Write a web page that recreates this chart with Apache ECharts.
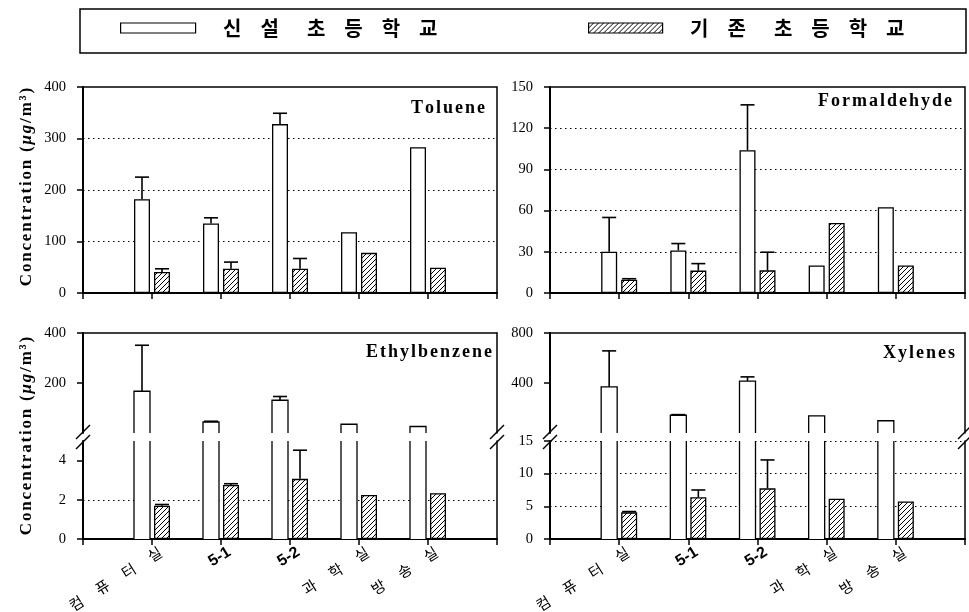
<!DOCTYPE html>
<html><head><meta charset="utf-8">
<script src="https://cdn.jsdelivr.net/npm/echarts@6/dist/echarts.min.js"></script>
<style>html,body{margin:0;padding:0;background:#fff}#c{width:969px;height:612px}</style>
</head><body><div id="c"></div>
<script>
// ---------------- data ----------------
const categories = ['컴퓨터실', '5-1', '5-2', '과학실', '방송실'];
const seriesNames = ['신설 초등학교', '기존 초등학교'];
const panelTitles = ['Toluene', 'Formaldehyde', 'Ethylbenzene', 'Xylenes'];

const tolueneNew = [182, 135, 328, 118, 283];
const tolueneNewSD = [43, 11, 21, null, null];
const tolueneOld = [41, 47, 47, 78, 49];
const tolueneOldSD = [6, 13, 20, null, null];

const formaldehydeNew = [30, 31, 104, 20, 62.5];
const formaldehydeNewSD = [25, 5, 33, null, null];
const formaldehydeOld = [9.6, 16.3, 16.5, 51, 20];
const formaldehydeOldSD = [0.8, 5.1, 13.2, null, null];

const ethylbenzeneNew = [167, 44, 131, 35, 26];
const ethylbenzeneNewSD = [184, 3, 15, null, null];
const ethylbenzeneOld = [1.70, 2.76, 3.07, 2.25, 2.34];
const ethylbenzeneOldSD = [0.06, 0.06, 1.46, null, null];

const xylenesNew = [369, 142, 415, 137, 98];
const xylenesNewSD = [288, 5, 34, null, null];
const xylenesOld = [4.08, 6.4, 7.75, 6.15, 5.74];
const xylenesOldSD = [0.12, 1.1, 4.35, null, null];

// tick labels
const tolueneTicks = [0, 100, 200, 300, 400];
const formaldehydeTicks = [0, 30, 60, 90, 120, 150];
const ethylUpperTicks = [200, 400];
const ethylLowerTicks = [0, 2, 4];
const xylUpperTicks = [400, 800];
const xylLowerTicks = [0, 5, 10, 15];
const yTitle = ['Concentration (', 'μg', '/m³)'];

// ---------------- layout / style ----------------
const L = {lx: 83, lw: 414, rx: 550, rw: 415, topY: 87, topH: 206, upY: 333, upH: 100, loY: 441, loH: 98};
const BAR_W = 16, BAR_GAP = '25%', OFF = 10, CAP = 14;
const xCats = [''].concat(categories, ['']);
const pad = arr => ['-'].concat(arr, ['-']);

// hatch pattern
const pc = document.createElement('canvas');
pc.width = 5; pc.height = 5;
const ctx = pc.getContext('2d');
ctx.fillStyle = '#fff'; ctx.fillRect(0, 0, 5, 5);
ctx.strokeStyle = '#000'; ctx.lineWidth = 1;
ctx.beginPath();
ctx.moveTo(0, 5); ctx.lineTo(5, 0);
ctx.moveTo(-1, 1); ctx.lineTo(1, -1);
ctx.moveTo(4, 6); ctx.lineTo(6, 4);
ctx.stroke();
const hatch = {image: pc, repeat: 'repeat'};

const whiteStyle = {color: '#fff', borderColor: '#000', borderWidth: 1.3};
const whiteFill = {color: '#fff', borderWidth: 0};
const hatchStyle = {color: hatch, borderColor: '#000', borderWidth: 1.3};

function spaced(s, key) {
  return s.split('').map(c => c === ' ' ? '{m| }' : '{' + key + '|' + c + '}').join('');
}

// ---------------- grids ----------------
const grids = [
  {left: L.lx, top: L.topY, width: L.lw, height: L.topH, show: true},
  {left: L.rx, top: L.topY, width: L.rw, height: L.topH, show: true},
  {left: L.lx, top: L.upY, width: L.lw, height: L.upH},
  {left: L.lx, top: L.loY, width: L.lw, height: L.loH},
  {left: L.rx, top: L.upY, width: L.rw, height: L.upH},
  {left: L.rx, top: L.loY, width: L.rw, height: L.loH}
].map(g => Object.assign({borderColor: '#000', borderWidth: 1.5, containLabel: false, outerBoundsMode: 'none'}, g));

const xRich = {
  k0: {fontFamily: 'Noto Sans CJK KR', fontSize: 15, color: '#000'},
  k: {fontFamily: 'Noto Sans CJK KR', fontSize: 15, color: '#000', padding: [0, 0, 0, 17]},
  n: {fontFamily: 'Liberation Sans', fontSize: 16, fontWeight: 'bold', color: '#000'}
};
function xFmt(v) {
  if (!v) return '';
  if (/^[0-9-]+$/.test(v)) return '{n|' + v + '}';
  return v.split('').map((c, i) => '{' + (i ? 'k' : 'k0') + '|' + c + '}').join('');
}
function xAx(gi, pos, labels) {
  return {
    type: 'category', gridIndex: gi, data: xCats, boundaryGap: false, position: pos,
    axisLine: {show: true, onZero: false, lineStyle: {color: '#000', width: pos === 'top' ? 1.5 : 2}},
    axisTick: {show: pos === 'bottom', interval: 0, length: 6, lineStyle: {color: '#000', width: 1.5}},
    axisLabel: {show: labels, interval: 0, rotate: 32, margin: 17, padding: [0, -10, 0, 0], formatter: xFmt, rich: xRich},
    splitLine: {show: false}
  };
}
function yAx(gi, ticks, min, max, interval, maxLine) {
  return {
    type: 'value', gridIndex: gi, position: 'left', min: min, max: max, interval: interval,
    axisLine: {show: true, onZero: false, lineStyle: {color: '#000', width: 2}},
    axisTick: {show: true, length: 6, customValues: ticks, lineStyle: {color: '#000', width: 1.5}},
    axisLabel: {show: true, customValues: ticks, margin: 17, color: '#000', fontFamily: 'Liberation Serif', fontSize: 14.5},
    splitLine: {show: true, showMinLine: false, showMaxLine: maxLine, lineStyle: {color: '#000', width: 1, type: [1.5, 3.5]}}
  };
}
function yRight(gi) {
  return {type: 'value', gridIndex: gi, position: 'right',
    axisLine: {show: true, onZero: false, lineStyle: {color: '#000', width: 1.5}},
    axisTick: {show: false}, axisLabel: {show: false}, splitLine: {show: false}};
}

const xAxis = [xAx(0, 'bottom', false), xAx(1, 'bottom', false), xAx(2, 'top', false),
               xAx(3, 'bottom', true), xAx(4, 'top', false), xAx(5, 'bottom', true)];
const yAxis = [
  yAx(0, tolueneTicks, 0, 400, 100, false),
  yAx(1, formaldehydeTicks, 0, 150, 30, false),
  yAx(2, ethylUpperTicks, 0, 400, 200, false),
  yAx(3, ethylLowerTicks, 0, 5, 2, false),
  yAx(4, xylUpperTicks, 0, 800, 400, false),
  yAx(5, xylLowerTicks, 0, 15, 5, true),
  yRight(2), yRight(3), yRight(4), yRight(5)
];

// ---------------- series helpers ----------------
function bar(name, ai, data, style) {
  return {type: 'bar', name: name, xAxisIndex: ai, yAxisIndex: ai, data: data,
    barWidth: BAR_W, barGap: BAR_GAP, itemStyle: style, silent: true, z: 2};
}
function errSeries(ai, vals, sds, off) {
  const data = [];
  vals.forEach((v, i) => { if (sds[i] != null) data.push([i + 1, v, v + sds[i]]); });
  return {type: 'custom', xAxisIndex: ai, yAxisIndex: ai, data: data, z: 4, silent: true,
    renderItem: (params, api) => {
      const x = api.value(0), v = api.value(1), t = api.value(2);
      const p0 = api.coord([x, v]), p1 = api.coord([x, t]);
      const cx = p0[0] + off;
      const st = {stroke: '#000', lineWidth: 1.6};
      return {type: 'group', children: [
        {type: 'line', shape: {x1: cx, y1: p0[1], x2: cx, y2: p1[1]}, style: st},
        {type: 'line', shape: {x1: cx - CAP / 2, y1: p1[1], x2: cx + CAP / 2, y2: p1[1]}, style: st}
      ]};
    }};
}
function outlineSeries(ai, vals, axisMax, off) {
  return {type: 'custom', xAxisIndex: ai, yAxisIndex: ai, data: vals.map((v, i) => [i + 1, v]), z: 3, silent: true,
    renderItem: (params, api) => {
      const x = api.value(0), v = api.value(1);
      const clipped = v > axisMax;
      const pb = api.coord([x, 0]), pt = api.coord([x, clipped ? axisMax : v]);
      const cx = pb[0] + off, l = cx - BAR_W / 2, r = cx + BAR_W / 2;
      const st = {stroke: '#000', lineWidth: 1.3, fill: null};
      if (clipped) {
        return {type: 'group', children: [
          {type: 'line', shape: {x1: l, y1: pb[1], x2: l, y2: pt[1]}, style: st},
          {type: 'line', shape: {x1: r, y1: pb[1], x2: r, y2: pt[1]}, style: st}
        ]};
      }
      return {type: 'polyline', shape: {points: [[l, pb[1]], [l, pt[1]], [r, pt[1]], [r, pb[1]]]}, style: st};
    }};
}

const series = [
  // Toluene
  bar(seriesNames[0], 0, pad(tolueneNew), whiteStyle),
  bar(seriesNames[1], 0, pad(tolueneOld), hatchStyle),
  errSeries(0, tolueneNew, tolueneNewSD, -OFF),
  errSeries(0, tolueneOld, tolueneOldSD, OFF),
  // Formaldehyde
  bar(seriesNames[0], 1, pad(formaldehydeNew), whiteStyle),
  bar(seriesNames[1], 1, pad(formaldehydeOld), hatchStyle),
  errSeries(1, formaldehydeNew, formaldehydeNewSD, -OFF),
  errSeries(1, formaldehydeOld, formaldehydeOldSD, OFF),
  // Ethylbenzene upper
  bar(seriesNames[0], 2, pad(ethylbenzeneNew), whiteFill),
  bar(seriesNames[1], 2, pad(categories.map(() => '-')), hatchStyle),
  outlineSeries(2, ethylbenzeneNew, 400, -OFF),
  errSeries(2, ethylbenzeneNew, ethylbenzeneNewSD, -OFF),
  // Ethylbenzene lower
  bar(seriesNames[0], 3, pad(ethylbenzeneNew), whiteFill),
  bar(seriesNames[1], 3, pad(ethylbenzeneOld), hatchStyle),
  outlineSeries(3, ethylbenzeneNew, 5, -OFF),
  errSeries(3, ethylbenzeneOld, ethylbenzeneOldSD, OFF),
  // Xylenes upper
  bar(seriesNames[0], 4, pad(xylenesNew), whiteFill),
  bar(seriesNames[1], 4, pad(categories.map(() => '-')), hatchStyle),
  outlineSeries(4, xylenesNew, 800, -OFF),
  errSeries(4, xylenesNew, xylenesNewSD, -OFF),
  // Xylenes lower
  bar(seriesNames[0], 5, pad(xylenesNew), whiteFill),
  bar(seriesNames[1], 5, pad(xylenesOld), hatchStyle),
  outlineSeries(5, xylenesNew, 15, -OFF),
  errSeries(5, xylenesOld, xylenesOldSD, OFF)
];

// ---------------- titles ----------------
const titleRich = {t: {fontFamily: 'Liberation Serif', fontWeight: 'bold', fontSize: 18, color: '#000', padding: [0, 1, 0, 1]}};
const titlePos = [{right: 485, top: 99}, {right: 18, top: 92}, {right: 478, top: 343}, {right: 15, top: 344}];
const title = panelTitles.map((t, i) => Object.assign({
  text: spaced(t, 't'), padding: 0, textStyle: {rich: titleRich}
}, titlePos[i]));

// ---------------- legend ----------------
const legRich = {
  s: {width: 13},
  m: {width: 9},
  c: {fontFamily: 'Noto Sans CJK KR', fontWeight: 'bold', fontSize: 20, color: '#000', padding: [0, 9.5, 0, 9.5]}
};
function legend(name, left, w) {
  return {data: [name], left: left, top: 18, padding: 0, itemWidth: w, itemHeight: 10, icon: 'rect',
    selectedMode: false, itemStyle: {borderColor: '#000', borderWidth: 1.2},
    formatter: n => '{s| }' + spaced(n, 'c'), textStyle: {rich: legRich}};
}

// ---------------- graphics ----------------
const yTitleRich = {
  b: {fontFamily: 'Liberation Serif', fontWeight: 'bold', fontSize: 17, fill: '#000', padding: [0, 0.9, 0, 0.9]},
  i: {fontFamily: 'Liberation Serif', fontWeight: 'bold', fontStyle: 'italic', fontSize: 17, fill: '#000', padding: [0, 0.9, 0, 0.9]}
};
const yTitleText = yTitle.map((part, k) => spaced(part, k === 1 ? 'i' : 'b')).join('').replace(/\{m\| \}/g, '{b| }');
const graphic = [
  {type: 'rect', shape: {x: 80, y: 9, width: 886, height: 44}, style: {fill: null, stroke: '#000', lineWidth: 1.5}},
  {type: 'text', x: 27, y: L.topY + L.topH / 2 - 3, rotation: Math.PI / 2,
    style: {text: yTitleText, rich: yTitleRich, align: 'center', verticalAlign: 'middle'}},
  {type: 'text', x: 27, y: (L.upY + L.loY + L.loH) / 2, rotation: Math.PI / 2,
    style: {text: yTitleText, rich: yTitleRich, align: 'center', verticalAlign: 'middle'}}
];
[L.lx, L.lx + L.lw, L.rx, L.rx + L.rw].forEach(X => {
  [L.upY + L.upH - 1, L.loY + 1].forEach(Y => {
    graphic.push({type: 'line', shape: {x1: X - 7, y1: Y + 7, x2: X + 7, y2: Y - 7},
      style: {stroke: '#000', lineWidth: 1.5}, z: 10});
  });
});

const chart = echarts.init(document.getElementById('c'), null, {renderer: 'canvas'});
chart.setOption({
  animation: false,
  backgroundColor: '#fff',
  title: title,
  legend: [legend(seriesNames[0], 120, 75), legend(seriesNames[1], 588, 74)],
  grid: grids,
  xAxis: xAxis,
  yAxis: yAxis,
  series: series,
  graphic: graphic
});
</script></body></html>
